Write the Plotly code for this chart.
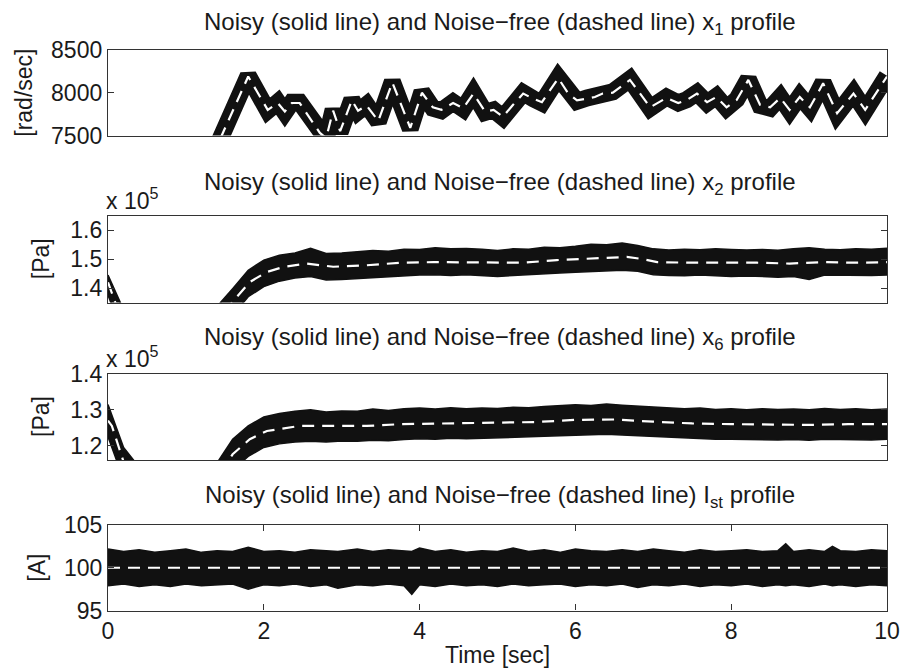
import plotly.graph_objects as go

# ---------------- data ----------------
# x1 profile [rad/sec]
t_x1 = [0.0, 1.2, 1.46, 1.80, 2.05, 2.18, 2.27, 2.36, 2.46, 2.72, 2.80, 2.89, 2.98, 3.13, 3.21,
        3.32, 3.47, 3.65, 3.88, 4.03, 4.17, 4.28, 4.43, 4.56, 4.69, 4.84, 4.95, 5.07, 5.20, 5.33,
        5.46, 5.57, 5.78, 5.91, 6.02, 6.15, 6.25, 6.35, 6.48, 6.70, 6.96, 7.17, 7.32, 7.43, 7.56,
        7.69, 7.81, 7.94, 8.07, 8.22, 8.37, 8.50, 8.63, 8.75, 8.88, 9.01, 9.18, 9.36, 9.57, 9.72, 10.0]
x1_clean = [6900, 6970, 7500, 8190, 7800, 7880, 7780, 7880, 7880, 7530, 7470, 7790, 7550, 7910, 7790,
            7850, 7670, 8120, 7590, 8000, 7830, 7800, 7880, 7820, 7990, 7780, 7800, 7720, 7860, 7990,
            7930, 7890, 8170, 7990, 7910, 7935, 7950, 7990, 8000, 8150, 7830, 7940, 7880, 7915, 7990,
            7890, 7950, 7830, 7915, 8150, 7860, 7830, 7940, 7800, 7950, 7830, 8110, 7760, 7990, 7800, 8190]
x1_noisy = [6900, 6970, 7500, 8200, 7790, 7890, 7770, 7890, 7890, 7520, 7460, 7800, 7540, 7920, 7780,
            7860, 7660, 8130, 7580, 8010, 7820, 7790, 7890, 7810, 8000, 7770, 7800, 7710, 7870, 8000,
            7930, 7880, 8180, 7990, 7900, 7940, 7950, 7990, 8010, 8160, 7820, 7950, 7880, 7920, 8000,
            7880, 7960, 7820, 7920, 8160, 7850, 7820, 7950, 7790, 7960, 7820, 8120, 7750, 8000, 7790, 8200]

# x2 profile [Pa] in units of 1e5 Pa
t_x2 = [0.0, 0.05, 0.1, 0.5, 1.0, 1.4, 1.6, 1.82, 2.04, 2.25, 2.55, 2.89, 3.32, 3.75, 4.18, 4.6,
        5.03, 5.33, 5.76, 6.19, 6.66, 6.83, 7.05, 7.47, 7.9, 8.33, 8.75, 9.18, 9.61, 10.0]
x2_clean = [1.42, 1.385, 1.345, 1.23, 1.20, 1.29, 1.352, 1.421, 1.456, 1.473, 1.485, 1.474, 1.479,
            1.488, 1.490, 1.490, 1.488, 1.488, 1.497, 1.502, 1.508, 1.502, 1.490, 1.488, 1.488,
            1.488, 1.485, 1.490, 1.488, 1.490]

t_band = [0.0, 0.2, 0.4, 0.6, 0.8, 1.0, 1.2, 1.4, 1.6, 1.8, 2.0, 2.2, 2.4, 2.6, 2.8, 3.0, 3.2, 3.4,
          3.6, 3.8, 4.0, 4.2, 4.4, 4.6, 4.8, 5.0, 5.2, 5.4, 5.6, 5.8, 6.0, 6.2, 6.4, 6.6, 6.8, 7.0,
          7.2, 7.4, 7.6, 7.8, 8.0, 8.2, 8.4, 8.6, 8.8, 9.0, 9.2, 9.4, 9.6, 9.8, 10.0]
x2_noisy_upper = [1.445, 1.325, 1.275, 1.245, 1.235, 1.245, 1.275, 1.335, 1.398, 1.462, 1.497, 1.514,
                  1.522, 1.538, 1.520, 1.522, 1.525, 1.530, 1.528, 1.535, 1.534, 1.540, 1.536, 1.537,
                  1.535, 1.530, 1.536, 1.535, 1.542, 1.540, 1.545, 1.552, 1.550, 1.556, 1.548, 1.536,
                  1.532, 1.535, 1.533, 1.536, 1.534, 1.532, 1.534, 1.531, 1.536, 1.540, 1.535, 1.533,
                  1.536, 1.535, 1.538]
x2_noisy_lower = [1.375, 1.235, 1.185, 1.155, 1.145, 1.155, 1.185, 1.245, 1.305, 1.370, 1.405, 1.424,
                  1.435, 1.440, 1.428, 1.430, 1.433, 1.436, 1.440, 1.443, 1.445, 1.446, 1.444, 1.446,
                  1.442, 1.440, 1.444, 1.446, 1.449, 1.452, 1.455, 1.457, 1.460, 1.462, 1.458, 1.446,
                  1.444, 1.443, 1.445, 1.442, 1.440, 1.442, 1.441, 1.438, 1.440, 1.430, 1.445, 1.444,
                  1.443, 1.444, 1.445]

# x6 profile [Pa] in units of 1e5 Pa
t_x6 = [0.0, 0.05, 0.2, 0.6, 1.0, 1.4, 1.6, 1.82, 2.04, 2.46, 2.89, 3.32, 3.75, 4.35, 5.0, 5.5,
        6.0, 6.5, 7.0, 7.5, 8.0, 8.5, 9.0, 9.5, 10.0]
x6_clean = [1.27, 1.255, 1.155, 1.07, 1.065, 1.11, 1.176, 1.218, 1.241, 1.255, 1.255, 1.255, 1.260,
            1.262, 1.263, 1.266, 1.272, 1.273, 1.267, 1.262, 1.260, 1.258, 1.258, 1.260, 1.260]
x6_noisy_upper = [1.315, 1.195, 1.140, 1.110, 1.100, 1.105, 1.120, 1.152, 1.218, 1.255, 1.280, 1.290,
                  1.296, 1.300, 1.294, 1.297, 1.296, 1.302, 1.298, 1.303, 1.305, 1.302, 1.306, 1.303,
                  1.305, 1.304, 1.307, 1.306, 1.309, 1.312, 1.314, 1.312, 1.316, 1.313, 1.311, 1.308,
                  1.305, 1.303, 1.305, 1.301, 1.303, 1.300, 1.303, 1.301, 1.302, 1.300, 1.304, 1.301,
                  1.303, 1.300, 1.302]
x6_noisy_lower = [1.225, 1.105, 1.055, 1.025, 1.015, 1.020, 1.035, 1.068, 1.132, 1.170, 1.195, 1.205,
                  1.210, 1.212, 1.210, 1.213, 1.212, 1.215, 1.214, 1.217, 1.219, 1.218, 1.221, 1.219,
                  1.220, 1.221, 1.222, 1.223, 1.226, 1.228, 1.230, 1.231, 1.232, 1.230, 1.228, 1.225,
                  1.222, 1.220, 1.219, 1.218, 1.218, 1.217, 1.218, 1.216, 1.217, 1.215, 1.218, 1.217,
                  1.218, 1.216, 1.218]

# I_st profile [A]
t_ist = [0.0, 10.0]
ist_clean = [100.0, 100.0]
t_ist_band = [0.0, 0.2, 0.4, 0.6, 0.8, 1.0, 1.2, 1.4, 1.6, 1.8, 2.0, 2.2, 2.4, 2.6, 2.8, 2.95, 3.2,
              3.4, 3.6, 3.8, 3.9, 4.0, 4.2, 4.4, 4.6, 4.8, 5.0, 5.2, 5.4, 5.6, 5.8, 6.0, 6.2, 6.4,
              6.6, 6.8, 7.0, 7.2, 7.4, 7.6, 7.8, 8.0, 8.2, 8.4, 8.6, 8.7, 8.8, 9.0, 9.2, 9.3, 9.4,
              9.6, 9.8, 10.0]
ist_noisy_upper = [102.2, 101.9, 102.1, 101.8, 102.0, 102.2, 101.8, 102.0, 101.9, 102.4, 101.9,
                   102.0, 101.8, 102.1, 102.0, 101.9, 102.2, 101.9, 102.1, 102.0, 101.9, 102.3, 101.9,
                   102.1, 101.8, 102.0, 101.9, 102.3, 101.9, 102.1, 101.8, 102.2, 102.0, 101.9, 102.1,
                   101.9, 102.2, 102.0, 101.8, 102.1, 101.9, 102.0, 102.1, 101.9, 102.0, 102.8, 101.9,
                   102.1, 101.9, 102.5, 102.0, 101.9, 102.1, 102.0]
ist_noisy_lower = [97.9, 98.1, 97.8, 98.0, 97.8, 98.1, 97.9, 98.0, 98.1, 97.5, 98.0, 97.9, 98.1,
                   97.8, 98.0, 97.6, 98.0, 97.9, 98.1, 97.9, 96.9, 98.0, 97.8, 98.1, 97.9, 98.0,
                   97.8, 98.1, 97.9, 98.0, 98.1, 97.8, 98.0, 97.9, 98.1, 97.7, 98.0, 97.9, 98.1,
                   97.8, 98.0, 97.9, 98.1, 97.8, 98.0, 97.9, 98.0, 97.8, 98.1, 97.9, 98.0, 97.8,
                   98.0, 97.9]

titles = ["x<sub>1</sub>", "x<sub>2</sub>", "x<sub>6</sub>", "I<sub>st</sub>"]
ylabels = ["[rad/sec]", "[Pa]", "[Pa]", "[A]"]

# ---------------- layout geometry ----------------
W, H = 901, 669
FONT = "Liberation Sans, Arial, Helvetica, sans-serif"
TXT = "#1a1a1a"
px_x = lambda p: p / W
px_y = lambda p: 1 - p / H
plot_tops = [50, 216, 374, 525]
plot_bots = [135.5, 302.5, 460, 610.5]

fig = go.Figure()

def add_band(t, up, lo, ax):
    fig.add_trace(go.Scatter(x=t, y=up, mode="lines", line=dict(color="#111", width=1.5),
                             xaxis="x" + ax, yaxis="y" + ax, showlegend=False, hoverinfo="skip"))
    fig.add_trace(go.Scatter(x=t, y=lo, mode="lines", line=dict(color="#111", width=1.5),
                             fill="tonexty", fillcolor="#111",
                             xaxis="x" + ax, yaxis="y" + ax, showlegend=False, hoverinfo="skip"))

def add_clean(t, v, ax):
    fig.add_trace(go.Scatter(x=t, y=v, mode="lines",
                             line=dict(color="white", width=2.2, dash="12px,8px"),
                             xaxis="x" + ax, yaxis="y" + ax, showlegend=False, hoverinfo="skip"))

# plot 1: noisy x1 as thick line
fig.add_trace(go.Scatter(x=t_x1, y=x1_noisy, mode="lines", line=dict(color="#111", width=17),
                         xaxis="x", yaxis="y", showlegend=False, hoverinfo="skip"))
add_clean(t_x1, x1_clean, "")
add_band(t_band, x2_noisy_upper, x2_noisy_lower, "2")
add_clean(t_x2, x2_clean, "2")
add_band(t_band, x6_noisy_upper, x6_noisy_lower, "3")
add_clean(t_x6, x6_clean, "3")
add_band(t_ist_band, ist_noisy_upper, ist_noisy_lower, "4")
add_clean(t_ist, ist_clean, "4")

yranges = [[7500, 8500], [1.35, 1.65], [1.16, 1.40], [95, 105]]
yticks = [[7500, 8000, 8500], [1.4, 1.5, 1.6], [1.2, 1.3, 1.4], [95, 100, 105]]
ytext = [["7500", "8000", "8500"], ["1.4", "1.5", "1.6"], ["1.2", "1.3", "1.4"], ["95", "100", "105"]]

FS = 23
FS_TITLE = 24
axfont = dict(family=FONT, size=FS, color=TXT)
layout = dict(autosize=True, margin=dict(l=0, r=0, t=0, b=0, autoexpand=False),
              paper_bgcolor="white", plot_bgcolor="white", showlegend=False)
for i in range(4):
    s = "" if i == 0 else str(i + 1)
    dom_y = [px_y(plot_bots[i]), px_y(plot_tops[i])]
    last = i == 3
    layout["xaxis" + s] = dict(domain=[px_x(108), px_x(887)], range=[0, 10], anchor="y" + s,
                               showline=True, mirror="ticks" if last else True,
                               linecolor="#333", linewidth=1.3,
                               showgrid=False, zeroline=False,
                               ticks="inside" if last else "", ticklen=6, tickcolor="#333",
                               tickvals=[0, 2, 4, 6, 8, 10] if last else [],
                               showticklabels=last, tickfont=axfont,
                               ticklabeloverflow="allow")
    layout["yaxis" + s] = dict(domain=dom_y, range=yranges[i], anchor="x" + s,
                               showline=True, mirror="ticks", linecolor="#333", linewidth=1.3,
                               showgrid=False, zeroline=False, ticks="inside", ticklen=6,
                               tickcolor="#333", tickvals=yticks[i], ticktext=ytext[i],
                               tickfont=axfont, ticklabeloverflow="allow")
fig.update_layout(**layout)

title_y = [23, 183, 338, 496]
ylabel_x = [24, 41, 41, 37]
for i in range(4):
    fig.add_annotation(text="Noisy (solid line) and Noise\u2212free (dashed line) " + titles[i] + " profile",
                       xref="paper", yref="paper", x=px_x(500), y=px_y(title_y[i]),
                       xanchor="center", yanchor="middle", showarrow=False,
                       font=dict(family=FONT, size=FS_TITLE, color=TXT))
    fig.add_annotation(text=ylabels[i], xref="paper", yref="paper", x=px_x(ylabel_x[i]),
                       y=px_y((plot_tops[i] + plot_bots[i]) / 2), textangle=-90,
                       xanchor="center", yanchor="middle", showarrow=False,
                       font=dict(family=FONT, size=FS, color=TXT))
for yy in [199, 357]:
    fig.add_annotation(text="x 10<sup>5</sup>", xref="paper", yref="paper", x=px_x(104), y=px_y(yy),
                       xanchor="left", yanchor="middle", showarrow=False,
                       font=dict(family=FONT, size=FS, color=TXT))
fig.add_annotation(text="Time [sec]", xref="paper", yref="paper", x=px_x(497), y=px_y(655),
                   xanchor="center", yanchor="middle", showarrow=False,
                   font=dict(family=FONT, size=FS, color=TXT))

# the figure div is pinned to the window's top-left corner at exactly 901x669,
# so the default 8px page margin neither offsets it nor makes the page overflow
fig.write_html("out.html",
               default_width="%dpx; position:fixed; left:0px; top:0px" % W,
               default_height="%dpx" % H)
